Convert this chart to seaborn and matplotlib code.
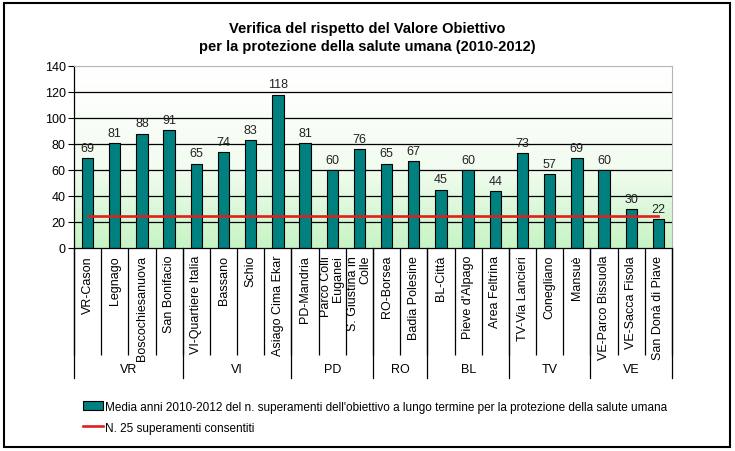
import numpy as np
import pandas as pd
import matplotlib.pyplot as plt
import matplotlib.transforms as mtransforms
from matplotlib.colors import LinearSegmentedColormap
from matplotlib.patches import Rectangle, Patch
from matplotlib.lines import Line2D
import seaborn as sns

plt.rcParams['font.family'] = ['Liberation Sans', 'DejaVu Sans']

# data
stations = ["VR-Cason", "Legnago", "Boscochiesanuova", "San Bonifacio",
            "VI-Quartiere Italia", "Bassano", "Schio", "Asiago Cima Ekar",
            "PD-Mandria", "Parco Colli\nEuganei", "S. Giustina in\nColle",
            "RO-Borsea", "Badia Polesine",
            "BL-Città", "Pieve d'Alpago", "Area Feltrina",
            "TV-Via Lancieri", "Conegliano", "Mansuè",
            "VE-Parco Bissuola", "VE-Sacca Fisola", "San Donà di Piave"]
exceedances = [69, 81, 88, 91, 65, 74, 83, 118, 81, 60, 76, 65, 67,
               45, 60, 44, 73, 57, 69, 60, 30, 22]
provinces = ["VR", "VI", "PD", "RO", "BL", "TV", "VE"]
province_sizes = [4, 4, 3, 2, 3, 3, 3]
limit = 25

bar_label = ("Media anni 2010-2012 del n. superamenti dell'obiettivo a lungo "
             "termine per la protezione della salute umana")
line_label = "N. 25 superamenti consentiti"

teal = '#00807F'
red = '#E0201C'

df = pd.DataFrame({'station': stations, 'value': exceedances})
df['limit'] = limit

fig = plt.figure(figsize=(7.35, 4.52), dpi=100)
ax = fig.add_axes([74/735, 1 - 249/452, 598/735, 182/452])

sns.barplot(data=df, x='station', y='value', color=teal, saturation=1,
            edgecolor='black', linewidth=0.8, width=0.42, ax=ax, zorder=2)
sns.lineplot(data=df, x='station', y='limit', color=red, linewidth=1.9,
             sort=False, ax=ax, zorder=3)

ax.bar_label(ax.containers[0], padding=3, fontsize=9, color='#222222')

n = len(stations)

# background gradient white -> pale green
cmap = LinearSegmentedColormap.from_list('bg', ['#FFFFFF', '#F2FCF0', '#C6F4C4'])
grad = np.linspace(0, 1, 256)[:, None] ** 1.2
ax.imshow(grad, cmap=cmap, extent=(-0.5, n - 0.5, 0, 140), aspect='auto',
          zorder=0, origin='upper')
ax.set_xlim(-0.5, n - 0.5)
ax.set_ylim(0, 140)

# y axis
ax.set_yticks(range(0, 141, 20))
ax.tick_params(axis='y', labelsize=9, length=4, width=0.8, pad=2)
ax.set_axisbelow(True)
ax.yaxis.grid(True, color='black', linewidth=0.9)
ax.get_ygridlines()[-1].set_visible(False)
ax.get_ygridlines()[0].set_visible(False)
ax.set_ylabel('')
ax.set_xlabel('')

for s in ['top', 'right']:
    ax.spines[s].set_color('#B5B5B5')
for s in ['left', 'bottom']:
    ax.spines[s].set_color('black')
    ax.spines[s].set_linewidth(0.9)

# x axis: station labels and separators
ax.set_xticks(range(n))
ax.set_xticklabels(stations, rotation=90, fontsize=9, va='top', ha='center',
                   multialignment='right', linespacing=1.05)
ax.tick_params(axis='x', which='major', length=0, pad=5)
ax.set_xticks(np.arange(-0.5, n), minor=True)
ax.tick_params(axis='x', which='minor', length=77, width=0.9, color='black')

# province groups
trans = mtransforms.blended_transform_factory(ax.transData, ax.transAxes)
edges = np.concatenate([[0], np.cumsum(province_sizes)]) - 0.5
for e in edges:
    ax.plot([e, e], [0, -130/182], color='black', linewidth=0.9,
            transform=trans, clip_on=False)
for name, a, b in zip(provinces, edges[:-1], edges[1:]):
    ax.text((a + b) / 2, -121/182, name, transform=trans, ha='center',
            va='center', fontsize=9)

# title
fig.text(0.5, 1 - 38/452,
         "Verifica del rispetto del Valore Obiettivo\n"
         "per la protezione della salute umana (2010-2012)",
         ha='center', va='center', fontsize=10.5, fontweight='bold',
         linespacing=1.45)

# legend
handles = [Patch(facecolor=teal, edgecolor='black', linewidth=0.8),
           Line2D([], [], color=red, linewidth=1.9)]
fig.legend(handles, [bar_label, line_label], loc='upper left',
           bbox_to_anchor=(78/735, 1 - 397/452), frameon=False, fontsize=8.5,
           handlelength=1.7, handletextpad=0.15, labelspacing=0.75,
           borderaxespad=0)

# outer frame
fig.add_artist(Rectangle((4/735, 4/452), 726/735, 444/452,
                         transform=fig.transFigure, fill=False,
                         edgecolor='black', linewidth=1.5))

fig.savefig('out.png', dpi=100)
